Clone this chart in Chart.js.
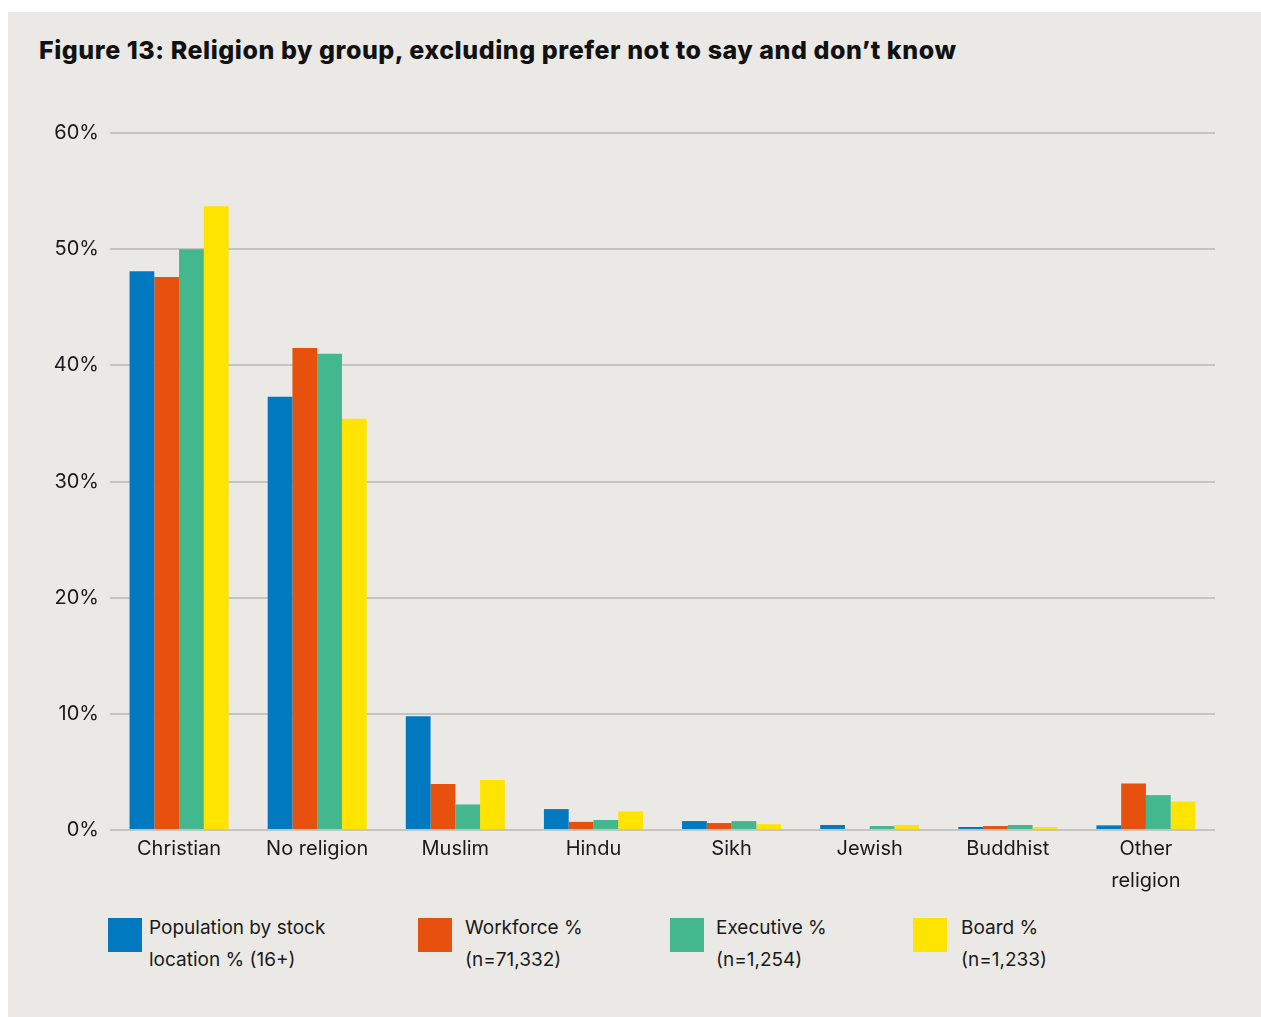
<!DOCTYPE html>
<html>
<head>
<meta charset="utf-8">
<title>Religion by group</title>
<script src="https://cdn.jsdelivr.net/npm/chart.js@4"></script>
<style>
  body { margin: 0; background: #fff; font-family: Inter, "Noto Sans", sans-serif; }
  #panel { position: absolute; left: 8px; top: 12px; width: 1253px; height: 1005px; background: #ebe9e5; }
  h1 { position: absolute; left: 31px; top: 23px; margin: 0; font-size: 25px; font-weight: 800; color: #111; letter-spacing: 0.55px; }
  #wrap { position: absolute; left: 12px; top: 98px; width: 1220px; height: 790px; }
  #legend { position: absolute; top: 900px; left: 0; width: 100%; }
  .box { position: absolute; top: 6px; width: 34px; height: 34px; }
  .lbl { position: absolute; top: 0; font-size: 19px; line-height: 32px; color: #1a1a1a; white-space: nowrap; }
</style>
</head>
<body>
<div id="panel">
  <h1>Figure 13: Religion by group, excluding prefer not to say and don’t know</h1>
  <div id="wrap"><canvas id="chart"></canvas></div>
  <div id="legend"></div>
</div>
<script>
const categories = ['Christian', 'No religion', 'Muslim', 'Hindu', 'Sikh', 'Jewish', 'Buddhist', ['Other', 'religion']];
const population = [48.1, 37.3, 9.8, 1.8, 0.77, 0.43, 0.26, 0.4];
const workforce = [47.6, 41.5, 3.95, 0.7, 0.6, 0, 0.34, 4.0];
const executive = [50.0, 41.0, 2.2, 0.86, 0.77, 0.34, 0.43, 3.0];
const board = [53.7, 35.4, 4.3, 1.6, 0.5, 0.43, 0.26, 2.45];
const seriesNames = [
  ['Population by stock', 'location % (16+)'],
  ['Workforce %', '(n=71,332)'],
  ['Executive %', '(n=1,254)'],
  ['Board %', '(n=1,233)']
];
const yMax = 60;
const yStep = 10;

const colors = ['#0079c1', '#e8500e', '#43b78e', '#ffe400'];
const boxLeft = [100, 410, 662, 905];
const textLeft = [141, 457, 708, 953];

const series = [population, workforce, executive, board];
const tickFont = 'Inter, "Noto Sans", sans-serif';

const chart = new Chart(document.getElementById('chart'), {
  type: 'bar',
  data: {
    labels: categories,
    datasets: series.map((values, i) => ({
      label: seriesNames[i].join(' '),
      data: values,
      backgroundColor: colors[i],
      borderWidth: 0,
      categoryPercentage: 0.717,
      barPercentage: 1
    }))
  },
  options: {
    responsive: true,
    maintainAspectRatio: false,
    animation: false,
    layout: { padding: { top: 21, right: 25, left: 0, bottom: 0 } },
    plugins: {
      legend: { display: false },
      tooltip: { enabled: false }
    },
    scales: {
      x: {
        grid: { display: false },
        border: { display: false },
        ticks: {
          color: '#1a1a1a',
          padding: -5,
          font: { family: tickFont, size: 20, lineHeight: 1.6 }
        },
        afterFit: (scale) => { scale.height = 70 }
      },
      y: {
        min: 0,
        max: yMax,
        grid: { color: '#c4c4c4', lineWidth: 2, drawTicks: false },
        border: { display: false },
        ticks: {
          stepSize: yStep,
          padding: 11,
          color: '#1a1a1a',
          font: { family: tickFont, size: 20 },
          callback: (v) => v + '%'
        },
        afterFit: (scale) => { scale.width = 90 }
      }
    }
  }
});

// legend with two-line labels, built from the series names
const legend = document.getElementById('legend');
seriesNames.forEach((lines, i) => {
  const box = document.createElement('div');
  box.className = 'box';
  box.style.left = boxLeft[i] + 'px';
  box.style.background = colors[i];
  legend.appendChild(box);

  const lbl = document.createElement('div');
  lbl.className = 'lbl';
  lbl.style.left = textLeft[i] + 'px';
  lbl.innerHTML = lines.join('<br>');
  legend.appendChild(lbl);
});
</script>
</body>
</html>
